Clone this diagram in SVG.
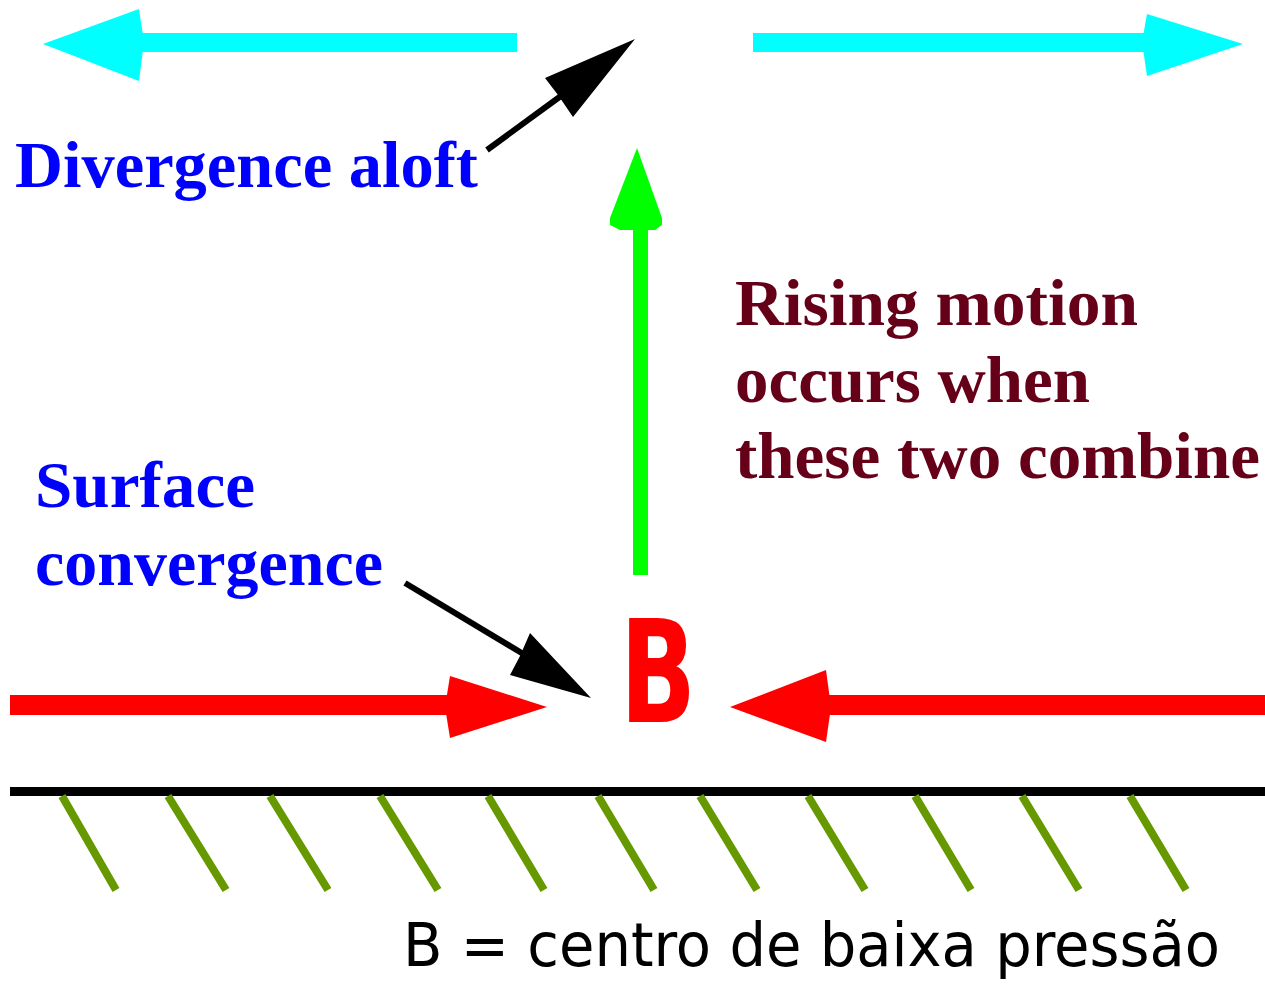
<svg xmlns="http://www.w3.org/2000/svg" width="1265" height="988" viewBox="0 0 1265 988">
<style>
.cyan{fill:#00ffff}
.red{fill:#ff0000}
.green{fill:#00ff00}
.blk{fill:#000}
.hatch{stroke:#669900;stroke-width:8;fill:none}
.lbl{font-family:"Liberation Serif","Times New Roman",serif;font-weight:bold;font-size:66px}
.blue{fill:#0000ff}
.maroon{fill:#660019}
</style>
<rect width="1265" height="988" fill="#fff"/>
<g id="connectors">
  <g id="cyan-left">
    <rect class="cyan" x="140" y="33" width="377" height="19"/>
    <polygon class="cyan" points="43,44 139,9 144,42 139,81"/>
  </g>
  <g id="cyan-right">
    <rect class="cyan" x="753" y="33" width="392" height="19"/>
    <polygon class="cyan" points="1243,44 1147,14 1142,42 1147,76"/>
  </g>
  <g id="black-top">
    <line x1="487" y1="150" x2="565" y2="93" stroke="#000" stroke-width="6"/>
    <polygon class="blk" points="635,39 545,78 558,95 573,117"/>
  </g>
  <g id="green-up">
    <rect class="green" x="633" y="225" width="15" height="350"/>
    <polygon class="green" points="637,148 610,218 610,225 620,230 655,230 662,225 662,218"/>
  </g>
  <g id="black-bottom">
    <line x1="405" y1="583" x2="525" y2="655" stroke="#000" stroke-width="6"/>
    <polygon class="blk" points="591,698 530,633 520,656 510,675"/>
  </g>
  <g id="red-left">
    <rect class="red" x="10" y="695" width="440" height="20"/>
    <polygon class="red" points="547,707 450,676 445,707 450,738"/>
  </g>
  <g id="red-right">
    <rect class="red" x="825" y="695" width="440" height="20"/>
    <polygon class="red" points="730,707 826,670 831,707 826,742"/>
  </g>
</g>
<g id="ground">
  <rect class="blk" x="10" y="787" width="1255" height="9"/>
  <path class="hatch" d="M62,796L116,890M168,796L226,890M270,796L328,890M380,796L438,890M488,796L544,890M598,796L654,890M700,796L757,890M808,796L865,890M915,796L971,890M1022,796L1079,890M1130,796L1186,890"/>
</g>
<g id="divergence-label">
  <text class="lbl blue" x="15" y="187" textLength="463" lengthAdjust="spacingAndGlyphs">Divergence aloft</text>
</g>
<g id="rising-label">
  <text class="lbl maroon" x="735" y="325" textLength="403" lengthAdjust="spacingAndGlyphs">Rising motion</text>
  <text class="lbl maroon" x="735" y="402" textLength="355" lengthAdjust="spacingAndGlyphs">occurs when</text>
  <text class="lbl maroon" x="735" y="478" textLength="525" lengthAdjust="spacingAndGlyphs">these two combine</text>
</g>
<g id="surface-label">
  <text class="lbl blue" x="35" y="507" textLength="220" lengthAdjust="spacingAndGlyphs">Surface</text>
  <text class="lbl blue" x="35" y="585" textLength="348" lengthAdjust="spacingAndGlyphs">convergence</text>
</g>
<g id="B-node">
  <text x="620" y="722" fill="#ff0000" font-family="'DejaVu Sans',sans-serif" font-weight="bold" font-size="142" textLength="76" lengthAdjust="spacingAndGlyphs">B</text>
</g>
<g id="legend">
  <text x="403" y="966" fill="#000" font-family="'DejaVu Sans',sans-serif" font-size="60" textLength="817" lengthAdjust="spacingAndGlyphs">B = centro de baixa pressão</text>
</g>
</svg>
